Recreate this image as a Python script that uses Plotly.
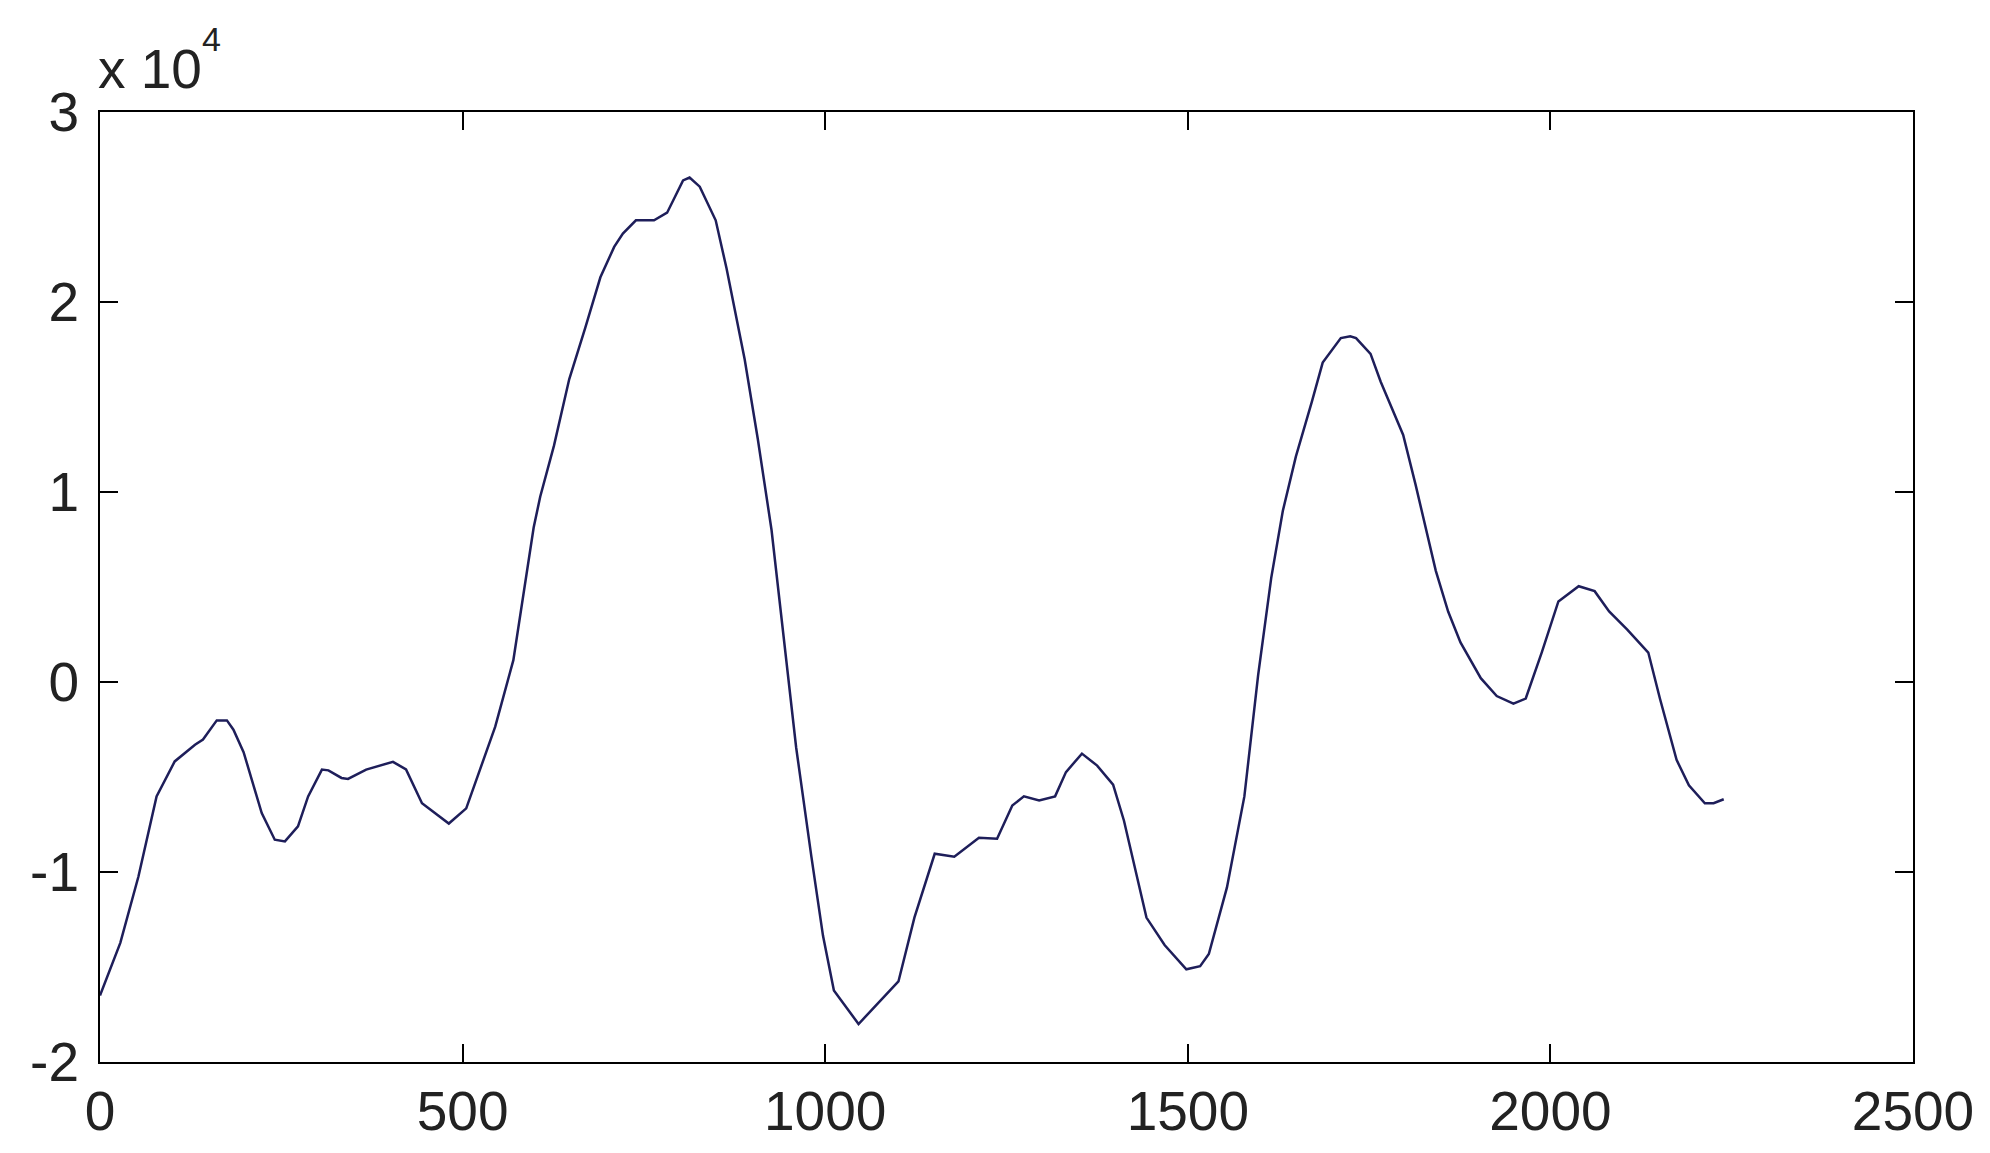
import plotly.graph_objects as go

# sample index and signal values
x_values = [0, 28, 53, 78, 103, 131, 142, 161, 175, 184, 198, 223, 241, 255, 273, 287,
            306, 315, 333, 342, 367, 404, 422, 444, 481, 505, 545, 570, 598, 607, 626,
            647, 669, 690, 709, 721, 739, 764, 782, 804, 813, 827, 849, 864, 889, 907,
            926, 944, 960, 981, 997, 1012, 1046, 1101, 1123, 1151, 1178, 1212, 1237,
            1258, 1274, 1295, 1317, 1332, 1354, 1375, 1397, 1412, 1443, 1468, 1498,
            1517, 1529, 1554, 1578, 1597, 1615, 1631, 1649, 1671, 1686, 1711, 1724,
            1732, 1752, 1766, 1797, 1814, 1842, 1859, 1876, 1904, 1926, 1949, 1966,
            1988, 2011, 2039, 2061, 2081, 2106, 2135, 2151, 2174, 2191, 2213, 2225, 2239]
y_values = [-16500, -13730, -10240, -6020, -4180, -3300, -3030, -2020, -2020, -2510,
            -3690, -6900, -8300, -8390, -7600, -6020, -4610, -4650, -5050, -5100, -4610,
            -4200, -4600, -6380, -7450, -6650, -2350, 1150, 8130, 9750, 12440, 15930,
            18620, 21300, 22900, 23600, 24300, 24300, 24700, 26400, 26550, 26070, 24300,
            21760, 16970, 12800, 8000, 1970, -3460, -9200, -13360, -16240, -18000,
            -15760, -12400, -9040, -9200, -8200, -8250, -6500, -6020, -6240, -6020,
            -4740, -3770, -4400, -5400, -7300, -12400, -13840, -15120, -14960, -14320,
            -10810, -6020, 360, 5470, 9000, 11860, 14740, 16810, 18100, 18200, 18100,
            17270, 15800, 13000, 10400, 5850, 3710, 2080, 200, -740, -1140, -870, 1550,
            4240, 5040, 4780, 3710, 2760, 1550, -870, -4100, -5440, -6380, -6380, -6170]

x_ticks = [0, 500, 1000, 1500, 2000, 2500]
y_ticks = [-2, -1, 0, 1, 2, 3]
y_scale = 1e4

fig = go.Figure()
fig.add_trace(go.Scatter(
    x=x_values,
    y=[v / y_scale for v in y_values],
    mode="lines",
    line=dict(color="#1e1e5a", width=2.5),
    showlegend=False,
))

label_font = dict(family="Liberation Sans, Arial", size=55, color="#222222")

axis_style = dict(
    showline=True, mirror="ticks", linecolor="black", linewidth=2,
    ticks="inside", ticklen=18, tickwidth=2, tickcolor="black",
    showgrid=False, zeroline=False, automargin=False,
    tickfont=label_font,
)

fig.update_xaxes(range=[0, 2500], tickvals=x_ticks, ticktext=[str(t) for t in x_ticks],
                 ticklabelstandoff=0, **axis_style)
fig.update_yaxes(range=[-2, 3], tickvals=y_ticks, ticktext=[str(t) for t in y_ticks],
                 ticklabelstandoff=8, **axis_style)

# MATLAB style exponent label above the y axis: "x 10" and a raised "4"
fig.add_annotation(
    xref="paper", yref="paper", x=0, y=1,
    xanchor="left", yanchor="bottom", xshift=-4, yshift=10,
    text="x 10", showarrow=False,
    font=label_font,
)
fig.add_annotation(
    xref="paper", yref="paper", x=0, y=1,
    xanchor="left", yanchor="bottom", xshift=100, yshift=52,
    text="4", showarrow=False,
    font=dict(family="Liberation Sans, Arial", size=34, color="#222222"),
)

# the page puts the figure 8px in from the top left corner
fig.update_layout(
    width=1974, height=1137,
    margin=dict(l=92, r=69, t=104, b=83),
    plot_bgcolor="white", paper_bgcolor="white",
)

fig.write_html("out.html")
